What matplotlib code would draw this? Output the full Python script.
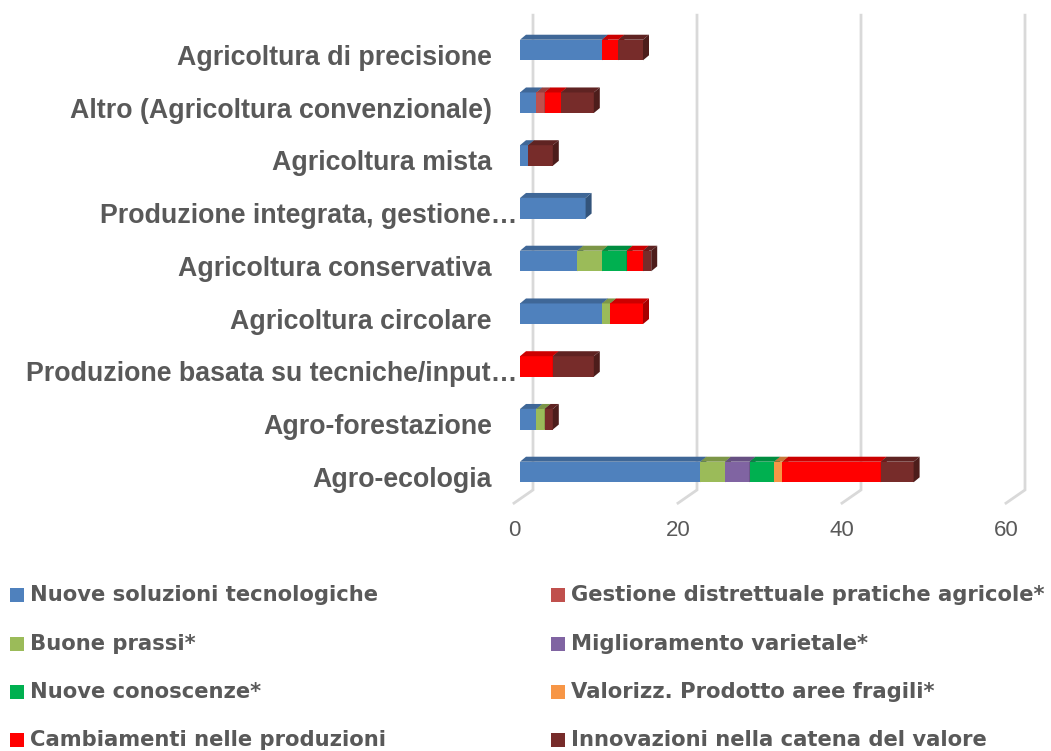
import matplotlib
matplotlib.use("Agg")
import matplotlib.pyplot as plt
from matplotlib.patches import Polygon, Rectangle
from matplotlib.colors import to_rgb

# categories, bottom to top
categories = [
    "Agro-ecologia",
    "Agro-forestazione",
    "Produzione basata su tecniche/input…",
    "Agricoltura circolare",
    "Agricoltura conservativa",
    "Produzione integrata, gestione…",
    "Agricoltura mista",
    "Altro (Agricoltura convenzionale)",
    "Agricoltura di precisione",
]

series_names = [
    "Nuove soluzioni tecnologiche",
    "Gestione distrettuale pratiche agricole*",
    "Buone prassi*",
    "Miglioramento varietale*",
    "Nuove conoscenze*",
    "Valorizz. Prodotto aree fragili*",
    "Cambiamenti nelle produzioni",
    "Innovazioni nella catena del valore",
]
series_colors = ["#4F81BD", "#C0504D", "#9BBB59", "#8064A2",
                 "#00B050", "#F79646", "#FF0000", "#772C2A"]

nuove_soluzioni = [22, 2, 0, 10, 7, 8, 1, 2, 10]
gestione_distr = [0, 0, 0, 0, 0, 0, 0, 1, 0]
buone_prassi = [3, 1, 0, 1, 3, 0, 0, 0, 0]
miglioramento = [3, 0, 0, 0, 0, 0, 0, 0, 0]
nuove_conoscenze = [3, 0, 0, 0, 3, 0, 0, 0, 0]
valorizzazione = [1, 0, 0, 0, 0, 0, 0, 0, 0]
cambiamenti = [12, 0, 4, 4, 2, 0, 0, 2, 2]
innovazioni = [4, 1, 5, 0, 1, 0, 3, 4, 3]

series_values = [nuove_soluzioni, gestione_distr, buone_prassi, miglioramento,
                 nuove_conoscenze, valorizzazione, cambiamenti, innovazioni]

x_ticks = [0, 20, 40, 60]

TEXT = "#595959"
GRID = "#D9D9D9"

W, H = 1051, 751
fig = plt.figure(figsize=(W / 100, H / 100), dpi=100)
ax = fig.add_axes([0, 0, 1, 1])
ax.axis("off")

# pixel geometry of the plot: value 0 at x=520, 8.2 px per unit, rows 52.75 px apart
px_unit = 8.2
row_px = 52.75
ax.set_xlim(-520 / px_unit, (W - 520) / px_unit)
ax.set_ylim((472 - H) / row_px, 472 / row_px)

bar_h = 0.39
dx, dy = 6 / px_unit, 5 / row_px          # bar depth
back_dx = 13 / px_unit                    # back wall offset
front_dx = -6 / px_unit                   # floor front offset


def shade(c, f):
    r, g, b = to_rgb(c)
    return (r * f, g * f, b * f)


# gridlines on the back wall, running down onto the floor
for v in x_ticks:
    ax.plot([v + back_dx, v + back_dx, v + front_dx],
            [8.66, -0.34, -0.59], color=GRID, lw=2, zorder=1,
            solid_joinstyle="miter")
    ax.text(v + front_dx, -1.10, str(v), ha="center", va="center",
            fontsize=16, color=TEXT, family="Liberation Sans")

z = 2
for i, cat in enumerate(categories):
    left = 0
    top = i + bar_h / 2
    for vals, col in zip(series_values, series_colors):
        w = vals[i]
        if w <= 0:
            continue
        ax.barh(i, w, left=left, height=bar_h, color=col, zorder=z)
        ax.add_patch(Polygon([(left, top), (left + w, top),
                              (left + w + dx, top + dy), (left + dx, top + dy)],
                             closed=True, color=shade(col, 0.8), lw=0, zorder=z))
        ax.add_patch(Polygon([(left + w, top), (left + w + dx, top + dy),
                              (left + w + dx, top + dy - bar_h), (left + w, top - bar_h)],
                             closed=True, color=shade(col, 0.65), lw=0, zorder=z))
        left += w
        z += 1
    # truncated labels run a little further right
    lx = 517 if cat.endswith("…") else 492
    ax.text((lx - 520) / px_unit, i - 0.15, cat, ha="right", va="center",
            fontsize=19.3, fontweight="bold", color=TEXT, family="Liberation Sans")

# legend, two columns filled row by row
rows_y = [595, 644, 692, 740]
cols_x = [10, 551]
for k, (name, col) in enumerate(zip(series_names, series_colors)):
    r, c = divmod(k, 2)
    y = rows_y[r]
    x = cols_x[c]
    fig.patches.append(Rectangle((x / W, 1 - (y + 7) / H), 14 / W, 14 / H,
                                 transform=fig.transFigure, color=col, lw=0))
    fig.text((x + 20) / W, 1 - y / H, name, ha="left", va="center",
             fontsize=15.2, fontweight="bold", color=TEXT, family="DejaVu Sans")

fig.savefig("out.png", dpi=100)
